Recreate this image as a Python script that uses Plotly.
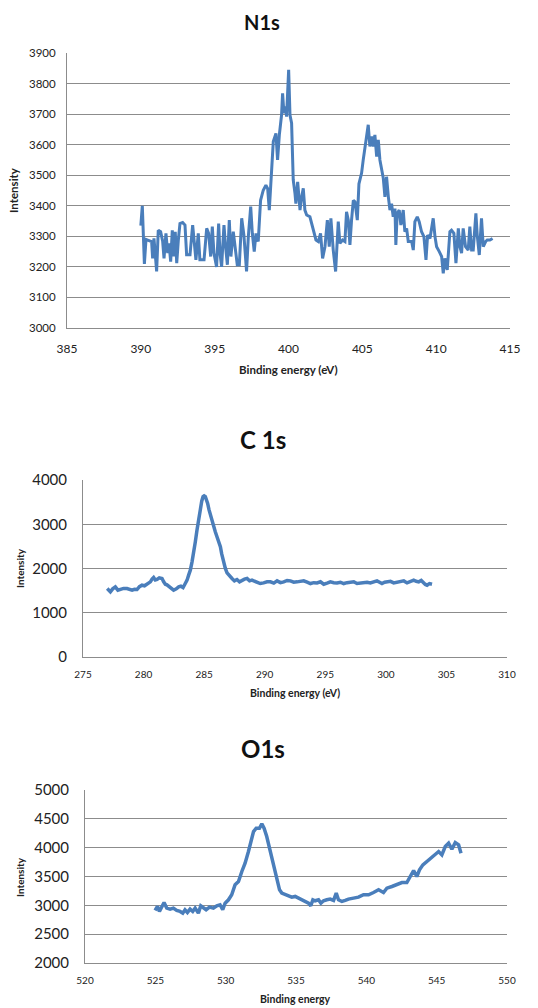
import plotly.graph_objects as go

# ---------------- N1s ----------------
n1s_energy = [390.00, 390.10, 390.24, 390.35, 390.51, 390.73, 390.80, 390.89, 390.98, 391.07,
              391.18, 391.34, 391.48, 391.57, 391.70, 391.82, 391.91, 392.02, 392.13, 392.24,
              392.33, 392.43, 392.54, 392.65, 392.83, 392.99, 393.10, 393.33, 393.51, 393.62,
              393.73, 393.89, 394.00, 394.12, 394.28, 394.46, 394.59, 394.73, 394.84, 394.95,
              395.13, 395.27, 395.36, 395.47, 395.63, 395.74, 395.86, 395.99, 396.10, 396.26,
              396.40, 396.53, 396.67, 396.83, 396.98, 397.16, 397.28, 397.44, 397.55, 397.68,
              397.80, 397.95, 398.11, 398.29, 398.47, 398.59, 398.70, 398.86, 398.97, 399.15,
              399.26, 399.38, 399.53, 399.60, 399.69, 399.80, 399.87, 400.01, 400.10, 400.21,
              400.32, 400.44, 400.50, 400.62, 400.71, 400.78, 400.89, 401.00, 401.11, 401.23,
              401.45, 401.68, 401.86, 402.02, 402.17, 402.31, 402.47, 402.63, 402.76, 402.87,
              403.03, 403.19, 403.37, 403.48, 403.66, 403.82, 403.93, 404.05, 404.16, 404.27,
              404.39, 404.50, 404.66, 404.77, 404.95, 405.06, 405.24, 405.40, 405.51, 405.63,
              405.74, 405.85, 405.97, 406.08, 406.19, 406.30, 406.42, 406.53, 406.64, 406.76,
              406.87, 406.98, 407.09, 407.21, 407.27, 407.36, 407.50, 407.61, 407.77, 407.88,
              408.00, 408.11, 408.34, 408.45, 408.56, 408.72, 408.85, 409.01, 409.17, 409.31,
              409.42, 409.58, 409.80, 409.92, 410.03, 410.21, 410.37, 410.48, 410.59, 410.75,
              410.93, 411.04, 411.20, 411.34, 411.50, 411.61, 411.72, 411.83, 411.99, 412.17,
              412.28, 412.40, 412.51, 412.69, 412.78, 412.92, 413.07, 413.19, 413.35, 413.46,
              413.64, 413.82]
n1s_intensity = [3335, 3400, 3210, 3290, 3287, 3283, 3228, 3293, 3240, 3185,
                 3320, 3315, 3283, 3228, 3310, 3245, 3277, 3217, 3320, 3234,
                 3315, 3212, 3288, 3342, 3345, 3337, 3240, 3240, 3337, 3266,
                 3223, 3310, 3223, 3223, 3223, 3326, 3310, 3234, 3332, 3245,
                 3200, 3342, 3245, 3200, 3337, 3266, 3207, 3353, 3234, 3315,
                 3266, 3207, 3207, 3359, 3304, 3185, 3299, 3397, 3310, 3250,
                 3310, 3283, 3418, 3451, 3467, 3456, 3386, 3507, 3610, 3637,
                 3550, 3632, 3697, 3768, 3703, 3725, 3692, 3845, 3697, 3670,
                 3485, 3440, 3407, 3478, 3429, 3386, 3429, 3457, 3386, 3370,
                 3364, 3320, 3288, 3283, 3310, 3228, 3266, 3353, 3266, 3359,
                 3255, 3185, 3348, 3277, 3288, 3283, 3380, 3353, 3272, 3353,
                 3418, 3413, 3353, 3472, 3507, 3550, 3605, 3665, 3594, 3627,
                 3594, 3632, 3561, 3616, 3550, 3518, 3490, 3429, 3495, 3430,
                 3386, 3407, 3364, 3391, 3272, 3375, 3386, 3337, 3386, 3315,
                 3326, 3283, 3283, 3255, 3348, 3364, 3348, 3315, 3299, 3223,
                 3304, 3293, 3359, 3299, 3266, 3250, 3234, 3179, 3228, 3190,
                 3315, 3320, 3310, 3212, 3326, 3266, 3245, 3326, 3266, 3255,
                 3332, 3255, 3255, 3375, 3304, 3239, 3359, 3266, 3283, 3288,
                 3288, 3293]

# ---------------- C 1s ----------------
c1s_energy = [277.00, 277.13, 277.26, 277.45, 277.67, 277.88, 278.08, 278.35, 278.63, 278.85,
              279.05, 279.25, 279.46, 279.66, 279.87, 280.08, 280.28, 280.42, 280.56, 280.70,
              280.83, 280.97, 281.11, 281.30, 281.52, 281.66, 281.80, 281.93, 282.07, 282.28,
              282.48, 282.70, 282.90, 283.08, 283.26, 283.42, 283.59, 283.72, 283.86, 284.00,
              284.14, 284.27, 284.41, 284.55, 284.69, 284.80, 284.91, 285.00, 285.10, 285.20,
              285.29, 285.40, 285.51, 285.65, 285.79, 285.92, 286.06, 286.20, 286.34, 286.45,
              286.56, 286.65, 286.75, 286.89, 287.03, 287.16, 287.30, 287.50, 287.71, 287.92,
              288.13, 288.33, 288.54, 288.75, 288.95, 289.15, 289.36, 289.63, 289.91, 290.19,
              290.47, 290.75, 291.02, 291.30, 291.57, 291.85, 292.12, 292.40, 292.67, 292.95,
              293.22, 293.50, 293.77, 294.05, 294.32, 294.60, 294.87, 295.15, 295.42, 295.70,
              295.97, 296.25, 296.52, 296.80, 297.07, 297.35, 297.62, 297.90, 298.17, 298.45,
              298.72, 299.00, 299.27, 299.48, 299.68, 299.90, 300.10, 300.38, 300.65, 300.93,
              301.20, 301.48, 301.75, 302.03, 302.30, 302.50, 302.71, 302.92, 303.12, 303.26,
              303.40, 303.60, 303.81]
c1s_intensity = [1547, 1500, 1472, 1540, 1585, 1510, 1525, 1550, 1547, 1520,
                 1509, 1530, 1525, 1590, 1623, 1610, 1645, 1660, 1698, 1760,
                 1796, 1740, 1751, 1790, 1774, 1700, 1645, 1630, 1600, 1560,
                 1509, 1540, 1585, 1600, 1570, 1650, 1736, 1850, 1962, 2150,
                 2340, 2600, 2868, 3150, 3396, 3520, 3623, 3640, 3623, 3560,
                 3472, 3330, 3208, 3080, 2943, 2830, 2717, 2600, 2491, 2330,
                 2189, 2080, 2000, 1900, 1849, 1800, 1774, 1720, 1751, 1700,
                 1736, 1760, 1774, 1720, 1736, 1710, 1698, 1660, 1675, 1700,
                 1698, 1670, 1721, 1680, 1698, 1730, 1721, 1690, 1698, 1710,
                 1721, 1690, 1660, 1680, 1675, 1700, 1645, 1670, 1698, 1680,
                 1675, 1690, 1660, 1680, 1683, 1700, 1660, 1670, 1675, 1690,
                 1675, 1700, 1721, 1690, 1660, 1690, 1698, 1710, 1675, 1690,
                 1698, 1720, 1675, 1700, 1736, 1710, 1698, 1730, 1660, 1640,
                 1623, 1660, 1645]

# ---------------- O1s ----------------
o1s_energy = [524.98, 525.15, 525.29, 525.45, 525.62, 525.81, 526.05, 526.28, 526.52, 526.76,
              526.95, 527.11, 527.28, 527.47, 527.66, 527.83, 528.06, 528.23, 528.42, 528.61,
              528.85, 529.13, 529.37, 529.60, 529.79, 529.96, 530.20, 530.43, 530.67, 530.91,
              531.15, 531.38, 531.62, 531.79, 531.98, 532.17, 532.40, 532.57, 532.73, 532.92,
              533.11, 533.28, 533.45, 533.64, 533.83, 533.99, 534.23, 534.47, 534.70, 534.94,
              535.18, 535.41, 535.65, 535.89, 536.05, 536.20, 536.36, 536.60, 536.77, 536.96,
              537.19, 537.43, 537.67, 537.86, 538.02, 538.26, 538.50, 538.73, 539.09, 539.44,
              539.80, 540.16, 540.51, 540.87, 541.22, 541.46, 541.82, 542.17, 542.53, 542.88,
              543.12, 543.36, 543.59, 543.78, 544.02, 544.31, 544.59, 544.90, 545.14, 545.37,
              545.61, 545.85, 546.08, 546.32, 546.56, 546.73]
o1s_intensity = [2912, 2981, 2894, 2969, 3050, 2952, 2935, 2952, 2912, 2894,
                 2865, 2923, 2877, 2935, 2894, 2952, 2865, 2992, 2952, 2923,
                 2969, 2952, 2992, 3010, 2923, 3038, 3096, 3183, 3356, 3413,
                 3587, 3731, 3933, 4077, 4279, 4337, 4337, 4412, 4337, 4192,
                 3990, 3788, 3615, 3413, 3269, 3212, 3183, 3165, 3142, 3154,
                 3125, 3108, 3067, 3038, 2992, 3096, 3079, 3096, 3038, 3079,
                 3096, 3108, 3085, 3212, 3096, 3067, 3085, 3108, 3125, 3142,
                 3183, 3183, 3223, 3269, 3223, 3298, 3327, 3356, 3396, 3396,
                 3500, 3604, 3500, 3615, 3702, 3760, 3817, 3875, 3933, 3875,
                 4019, 4077, 3973, 4088, 4048, 3904]

titles = ["N1s", "C 1s", "O1s"]
x_titles = ["Binding energy (eV)", "Binding energy (eV)", "Binding energy"]
y_title = "Intensity"

# the page body keeps an 8px margin, so the figure is drawn inside it
PAGE_W, PAGE_H, OFF = 538, 1008, 8
W, H = PAGE_W - 2 * OFF, PAGE_H - OFF
LINE = "#4A7EBB"
GRID = "#8C8C8C"
FONT = "Lato"


def fx(px):
    return (px - OFF) / W


def fy(py):
    return 1 - (py - OFF) / H


fig = go.Figure()
fig.add_trace(go.Scatter(x=n1s_energy, y=n1s_intensity, mode="lines",
                         line=dict(color=LINE, width=3), xaxis="x", yaxis="y"))
fig.add_trace(go.Scatter(x=c1s_energy, y=c1s_intensity, mode="lines",
                         line=dict(color=LINE, width=3.5), xaxis="x2", yaxis="y2"))
fig.add_trace(go.Scatter(x=o1s_energy, y=o1s_intensity, mode="lines",
                         line=dict(color=LINE, width=3.5), xaxis="x3", yaxis="y3"))


def xax(dom, rng, dtick, anchor, fsize, tlen):
    return dict(domain=dom, range=rng, dtick=dtick, tick0=rng[0], anchor=anchor,
                automargin=False,
                showgrid=False, zeroline=False, showline=True, linecolor=GRID, linewidth=1,
                ticks="outside", ticklen=tlen, tickcolor="rgba(0,0,0,0)",
                tickfont=dict(family=FONT, size=fsize, color="#222222"), fixedrange=True)


def yax(dom, rng, dtick, anchor, fsize, tlen):
    return dict(domain=dom, range=rng, dtick=dtick, tick0=rng[0], anchor=anchor,
                automargin=False,
                showgrid=True, gridcolor=GRID, gridwidth=1, zeroline=False,
                showline=True, linecolor=GRID, linewidth=1,
                ticks="outside", ticklen=tlen, tickcolor="rgba(0,0,0,0)",
                tickfont=dict(family=FONT, size=fsize, color="#222222"), fixedrange=True)


fig.update_layout(
    width=W, height=H, margin=dict(l=0, r=0, t=0, b=0, autoexpand=False),
    paper_bgcolor="white", plot_bgcolor="white", showlegend=False,
    xaxis=xax([fx(67), fx(510)], [385, 415], 5, "y", 12, 10),
    yaxis=yax([fy(328), fy(53)], [3000, 3900], 100, "x", 11.5, 8),
    xaxis2=xax([fx(83), fx(507)], [275, 310], 5, "y2", 10, 8),
    yaxis2=yax([fy(657), fy(480)], [0, 4000], 1000, "x2", 15, 12),
    xaxis3=xax([fx(85), fx(507)], [520, 550], 5, "y3", 10, 8),
    yaxis3=yax([fy(963), fy(790)], [2000, 5000], 500, "x3", 15, 12),
)

ann = []
# chart titles
for t, (cx, cy, sz) in zip(titles, [(262, 22, 20), (263, 440, 24), (263, 748, 24)]):
    ann.append(dict(text="<b>%s</b>" % t, x=fx(cx), y=fy(cy), xref="paper", yref="paper",
                    showarrow=False, xanchor="center", yanchor="middle",
                    font=dict(family=FONT, size=sz, color="#111111")))
# x axis titles
for t, (cx, cy, sz) in zip(x_titles, [(288, 369, 11.5), (295, 693, 10.5), (295, 999, 10.5)]):
    ann.append(dict(text="<b>%s</b>" % t, x=fx(cx), y=fy(cy), xref="paper", yref="paper",
                    showarrow=False, xanchor="center", yanchor="middle",
                    font=dict(family=FONT, size=sz, color="#222222")))
# y axis titles
for (cx, cy, sz) in [(14, 190, 11.5), (20, 568, 10), (20, 877, 10)]:
    ann.append(dict(text="<b>%s</b>" % y_title, x=fx(cx), y=fy(cy), xref="paper", yref="paper",
                    showarrow=False, xanchor="center", yanchor="middle", textangle=-90,
                    font=dict(family=FONT, size=sz, color="#222222")))
fig.update_layout(annotations=ann)

fig.write_html("out.html")
